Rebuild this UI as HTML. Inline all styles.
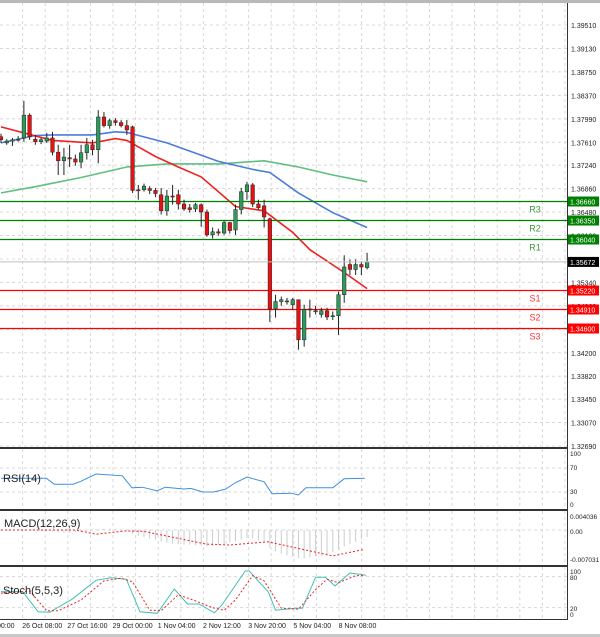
<!DOCTYPE html>
<html><head><meta charset="utf-8"><style>
html,body{margin:0;padding:0;background:#fff;width:600px;height:637px;overflow:hidden}
svg{display:block;font-family:"Liberation Sans",sans-serif}
</style></head><body>
<svg id="chart" width="600" height="637" viewBox="0 0 600 637" xmlns="http://www.w3.org/2000/svg"></svg>
<script>
// ---- data ----
const candleOpen=[1.3770,1.3760,1.3763,1.3765,1.3768,1.3805,1.3766,1.3762,1.3763,1.3768,1.3745,1.3731,1.3736,1.3734,1.3729,1.3744,1.3757,1.3749,1.3802,1.3788,1.3796,1.3793,1.3788,1.3786,1.3684,1.3684,1.3686,1.3683,1.3676,1.3650,1.3674,1.3676,1.3661,1.3655,1.3653,1.3660,1.3648,1.3611,1.3616,1.3614,1.3631,1.3619,1.3652,1.3681,1.3692,1.3661,1.3658,1.3637,1.3491,1.3503,1.3503,1.3498,1.3506,1.3441,1.3491,1.3488,1.3482,1.3488,1.3480,1.3480,1.3514,1.3563,1.3555,1.3563,1.3558];
const candleHigh=[1.3775,1.3766,1.3768,1.3771,1.3828,1.3808,1.3773,1.3768,1.3776,1.3778,1.3757,1.3752,1.3757,1.3741,1.3757,1.3768,1.3765,1.3813,1.3810,1.3799,1.3800,1.3797,1.3797,1.3788,1.3692,1.3694,1.3690,1.3687,1.3687,1.3684,1.3692,1.3684,1.3668,1.3661,1.3663,1.3662,1.3652,1.3623,1.3621,1.3634,1.3632,1.3660,1.3687,1.3697,1.3695,1.3668,1.3668,1.3639,1.3514,1.3511,1.3509,1.3509,1.3506,1.3498,1.3506,1.3496,1.3493,1.3493,1.3487,1.3519,1.3578,1.3571,1.3571,1.3568,1.3582];
const candleLow=[1.3760,1.3757,1.3755,1.3762,1.3762,1.3765,1.3757,1.3758,1.3760,1.3740,1.3708,1.3708,1.3721,1.3723,1.3719,1.3733,1.3740,1.3727,1.3785,1.3783,1.3788,1.3785,1.3773,1.3679,1.3668,1.3681,1.3677,1.3672,1.3644,1.3642,1.3660,1.3652,1.3650,1.3647,1.3648,1.3624,1.3608,1.3605,1.3610,1.3611,1.3613,1.3611,1.3644,1.3668,1.3656,1.3652,1.3623,1.3470,1.3477,1.3496,1.3498,1.3490,1.3425,1.3430,1.3477,1.3482,1.3477,1.3473,1.3473,1.3449,1.3501,1.3546,1.3546,1.3546,1.3555];
const candleClose=[1.3765,1.3763,1.3765,1.3766,1.3805,1.3770,1.3762,1.3765,1.3768,1.3745,1.3731,1.3737,1.3734,1.3729,1.3744,1.3757,1.3749,1.3802,1.3788,1.3796,1.3793,1.3788,1.3781,1.3683,1.3683,1.3690,1.3683,1.3678,1.3650,1.3674,1.3673,1.3661,1.3653,1.3652,1.3660,1.3648,1.3611,1.3616,1.3614,1.3631,1.3618,1.3652,1.3681,1.3692,1.3661,1.3655,1.3640,1.3491,1.3503,1.3506,1.3504,1.3506,1.3441,1.3490,1.3490,1.3488,1.3488,1.3478,1.3480,1.3514,1.3559,1.3555,1.3563,1.3559,1.3567];
const maFast=[[0,1.3786],[9,1.3764],[16,1.3760],[20,1.3767],[22,1.3764],[27,1.3738],[31,1.3721],[35,1.3705],[41,1.3657],[46,1.3650],[51,1.3615],[54,1.3587],[60,1.3550],[64,1.3524]];
const maMid=[[0,1.3760],[6,1.3772],[9,1.3773],[16,1.3773],[20,1.3778],[22,1.3777],[29,1.3760],[38,1.3730],[44,1.3717],[47,1.3712],[52,1.3679],[58,1.3647],[64,1.3623]];
const maSlow=[[0,1.3679],[6,1.3689],[14,1.3704],[22,1.3721],[29,1.3726],[38,1.3726],[46,1.3731],[52,1.3721],[58,1.3708],[64,1.3697]];
const levelNames=["R3","R2","R1","S1","S2","S3"];
const levelValues=[1.3666,1.3635,1.3604,1.3522,1.3491,1.3460];
const priceTicks=[1.39510,1.39130,1.38750,1.38370,1.37990,1.37610,1.37240,1.36860,1.36480,1.36100,1.35720,1.35340,1.34960,1.34580,1.34200,1.33820,1.33450,1.33070,1.32690];
const lastPrice=1.35672;
const timeLabels=["00:00","26 Oct 08:00","27 Oct 16:00","29 Oct 00:00","1 Nov 04:00","2 Nov 12:00","3 Nov 20:00","5 Nov 04:00","8 Nov 08:00"];
const rsiPts=[[0,53],[7.9,53],[9.3,43],[12.6,43],[14,48],[16.6,60],[21.2,57],[22.9,37],[24.7,38],[27.3,32],[28.7,38],[32,35],[33.2,36],[35.3,30],[37.2,30],[39.3,35],[40.9,45],[43,55],[46,47],[47.4,27],[50.7,28],[52,25],[53.3,37],[58,37],[60,52],[63.6,53]];
const macdHist=[-0.0001,-0.0001,0,-0.0001,0.0001,0,-0.0001,-0.0002,-0.0002,-0.0003,-0.0005,-0.0006,-0.0006,-0.0005,-0.0004,-0.0003,-0.0001,0.0002,0.0003,0.0003,0.0002,0.0001,0,-0.0008,-0.0012,-0.0015,-0.0018,-0.0021,-0.0025,-0.0027,-0.0029,-0.003,-0.0031,-0.0031,-0.0032,-0.0033,-0.0035,-0.0034,-0.0032,-0.003,-0.0026,-0.0024,-0.002,-0.0017,-0.0018,-0.0022,-0.0026,-0.0038,-0.0045,-0.005,-0.0054,-0.0057,-0.006,-0.006,-0.0058,-0.0056,-0.0055,-0.0052,-0.0047,-0.0042,-0.0035,-0.003,-0.0025,-0.002,-0.0015];
const macdSignal=[[0,0],[13,0],[16.6,-0.0009],[21.8,-0.0002],[25,-0.0003],[35.9,-0.003],[40,-0.0032],[46.7,-0.0025],[58,-0.0055],[63.6,-0.0041]];
const stochMain=[[0,51],[3.8,51],[6.5,12],[8.5,11],[12.5,37],[16.6,73],[19.2,78],[21.9,75],[24.3,12],[27.3,9],[30.3,56],[32.6,27],[34.6,27],[37.3,10],[38.6,25],[40.6,57],[42.7,91],[43.4,91],[46.7,51],[48,15],[51.4,19],[52.7,19],[55,79],[56.7,79],[58.4,62],[61,87],[63.7,83]];
const stochSignal=[[0,48],[5,52],[8,14],[10,14],[14,35],[18,72],[21,77],[23,70],[26,15],[28,14],[31,45],[34,33],[37,20],[39,15],[41,35],[44,82],[46,72],[49,19],[52,17],[55,55],[57,75],[59,68],[62,82],[63.7,82]];

// ---- axes ----
const NS="http://www.w3.org/2000/svg";
const svg=document.getElementById('chart');
const PR=567;
const xIdx=i=>1+i*5.72;
const yPrice=p=>25+(1.3951-p)/0.0682*421;
const yRsi=v=>510-0.6*v;
const yMacd=v=>530-v*4700;
const yStoch=v=>618-0.517*v;
function el(tag,attrs,parent){const e=document.createElementNS(NS,tag);for(const k in attrs)e.setAttribute(k,attrs[k]);(parent||svg).appendChild(e);return e;}
function txt(x,y,s,size,fill,anchor){const t=el('text',{x:x,y:y,'font-size':size,fill:fill,'text-anchor':anchor||'start'});t.textContent=s;return t;}
function path(pts,fx,fy){return pts.map((p,i)=>(i?'L':'M')+fx(p[0]).toFixed(1)+' '+fy(p[1]).toFixed(1)).join(' ');}

el('rect',{x:0,y:0,width:600,height:3,fill:'#b8b8b8'});
const grid=el('g',{});


const panels=[[3,447],[449,509],[511,565],[567,619]];
for(let gx=22.6;gx<PR;gx+=22.6){panels.forEach(p=>el('line',{x1:gx,y1:p[0],x2:gx,y2:p[1],stroke:'#d8d8d8','stroke-dasharray':'3,3','stroke-width':1},grid));}
priceTicks.forEach(t=>{const y=yPrice(t);el('line',{x1:0,y1:y,x2:PR,y2:y,stroke:'#d8d8d8','stroke-dasharray':'3,3'},grid);});
[70,30].forEach(v=>el('line',{x1:0,y1:yRsi(v),x2:PR,y2:yRsi(v),stroke:'#d8d8d8','stroke-dasharray':'3,3'},grid));
[80,20].forEach(v=>el('line',{x1:0,y1:yStoch(v),x2:PR,y2:yStoch(v),stroke:'#d8d8d8','stroke-dasharray':'3,3'},grid));
el('line',{x1:0,y1:yMacd(0),x2:PR,y2:yMacd(0),stroke:'#d8d8d8','stroke-dasharray':'3,3'},grid);

priceTicks.forEach(t=>{const l=txt(571,yPrice(t)+3,t.toFixed(5),7,'#222');

});

[[maSlow,'#5fbf7f'],[maMid,'#4a7bdc'],[maFast,'#ee2222']].forEach((m,k)=>{
const p=el('path',{d:path(m[0],xIdx,yPrice),fill:'none',stroke:m[1],'stroke-width':1.6});

});

levelValues.forEach((v,i)=>{const y=Math.round(yPrice(v))+0.5;const res=levelNames[i][0]==='R';
const c=res?'#008000':'#ff0000';
const ln=el('line',{x1:0,y1:y,x2:PR,y2:y,stroke:c,'stroke-width':1.3});


const lb=txt(535,y+11,levelNames[i],9,res?'#3a9a3a':'#ff3333','middle');


el('rect',{x:568,y:y-5,width:31,height:10,fill:c});
const bt=txt(570,y+3,v.toFixed(5),7,'#fff');

});

const cg=el('g',{});


candleOpen.forEach((o,i)=>{const c=candleClose[i];const x=xIdx(i);
el('line',{x1:x,y1:yPrice(candleHigh[i]),x2:x,y2:yPrice(candleLow[i]),stroke:'#222','stroke-width':1},cg);
const top=yPrice(Math.max(o,c)),bot=yPrice(Math.min(o,c));
const r=el('rect',{x:x-1.8,y:top,width:3.6,height:Math.max(bot-top,1),fill:c>=o?'#2e9a5a':'#e81010',stroke:'#222','stroke-width':0.5},cg);

});

const ly=yPrice(lastPrice);
el('line',{x1:0,y1:ly,x2:PR,y2:ly,stroke:'#c0c0c0','stroke-width':1});
el('rect',{x:568,y:ly-5,width:31,height:10,fill:'#000'});
const lpt=txt(570,ly+3,lastPrice.toFixed(5),7,'#fff');



const rp=el('path',{d:path(rsiPts,xIdx,yRsi),fill:'none',stroke:'#3f8fe0','stroke-width':1});


macdHist.forEach((v,i)=>{const x=xIdx(i);const b=el('line',{x1:x,y1:yMacd(0),x2:x,y2:yMacd(v),stroke:'#cccccc','stroke-width':1});

});
const ms=el('path',{d:path(macdSignal,xIdx,yMacd),fill:'none',stroke:'#ee2222','stroke-width':1,'stroke-dasharray':'2,2'});


const sm=el('path',{d:path(stochMain,xIdx,yStoch),fill:'none',stroke:'#40c0b0','stroke-width':1});


const ss=el('path',{d:path(stochSignal,xIdx,yStoch),fill:'none',stroke:'#ee2222','stroke-width':1,'stroke-dasharray':'2,2'});



el('line',{x1:PR+0.5,y1:3,x2:PR+0.5,y2:620,stroke:'#333','stroke-width':1});
[[447,449],[509,511],[565,567]].forEach(p=>{el('line',{x1:0,y1:p[0]+0.5,x2:PR,y2:p[0]+0.5,stroke:'#333'});el('line',{x1:0,y1:p[1]-0.5,x2:PR,y2:p[1]-0.5,stroke:'#333'});});
el('line',{x1:0,y1:619.5,x2:PR+1,y2:619.5,stroke:'#333'});
el('rect',{x:0,y:634,width:600,height:3,fill:'#c8c8c8'});

[["RSI(14)",3,482,'rsi-title'],["MACD(12,26,9)",4,527,'macd-title'],["Stoch(5,5,3)",3,594,'stoch-title']].forEach(a=>{
const t=txt(a[1],a[2],a[0],11,'#222');

});
[["100",454],["70",468],["30",492],["0",505],["0.004036",517],["0.00",532],["-0.007031",560],["100",572],["80",578],["20",609],["0",615]].forEach(a=>{
const t=txt(570,a[1]+2,a[0],6.5,'#222');

});

timeLabels.forEach((s,i)=>{const t=txt(i===0?-3:-23+i*45.2,628,s,7,'#222');

});
</script>
</body></html>
